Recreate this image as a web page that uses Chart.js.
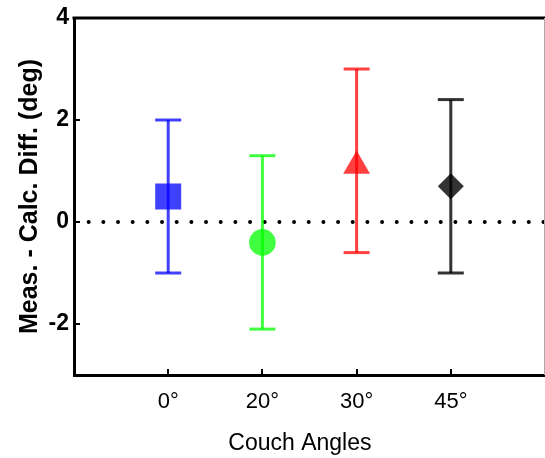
<!DOCTYPE html>
<html>
<head>
<meta charset="utf-8">
<script src="https://cdn.jsdelivr.net/npm/chart.js@4"></script>
<style>
  html, body { margin: 0; padding: 0; overflow: hidden; background: #fff; }
  canvas { display: block; }
</style>
</head>
<body>
<canvas id="diff-chart" width="545" height="458"></canvas>
<script>
// couch angle groups, plotted at x = 1..4
const angles = ['0°', '20°', '30°', '45°'];
const means = [0.5, -0.4, 1.1, 0.7];
const upper = [2.0, 1.3, 3.0, 2.4];
const lower = [-1.0, -2.1, -0.6, -1.0];
const yTicks = [-2, 0, 2, 4];

const colors = ['rgba(0,0,255,0.75)', 'rgba(0,255,0,0.75)', 'rgba(255,0,0,0.75)', 'rgba(0,0,0,0.8)'];
const markers = ['rect', 'circle', 'triangle', 'rectRot'];
const markerSize = [18.4, 13.3, 15.5, 13];

const FONT = "'Liberation Sans', Arial, Helvetica, sans-serif";

// frame on top/right plus small inward tick marks
const frameTicks = {
    id: 'frameTicks',
    afterDraw(chart) {
        const { ctx, chartArea: a, scales: { x, y } } = chart;
        ctx.save();
        ctx.strokeStyle = '#000';
        ctx.lineWidth = 3;
        ctx.beginPath();
        ctx.moveTo(a.left - 1.5, a.top);
        ctx.lineTo(a.right, a.top);
        ctx.stroke();

        // right edge of the frame is cut off, only a faint sliver shows
        ctx.strokeStyle = '#aaa';
        ctx.lineWidth = 1;
        ctx.beginPath();
        ctx.moveTo(a.right - 0.5, a.top);
        ctx.lineTo(a.right - 0.5, a.bottom);
        ctx.stroke();

        ctx.strokeStyle = '#000';
        ctx.lineWidth = 2;
        ctx.beginPath();
        x.ticks.forEach(t => {
            const px = Math.round(x.getPixelForValue(t.value));
            ctx.moveTo(px, a.bottom);
            ctx.lineTo(px, a.bottom - 6);
        });
        y.ticks.forEach(t => {
            const py = Math.round(y.getPixelForValue(t.value));
            ctx.moveTo(a.left, py);
            ctx.lineTo(a.left + 6, py);
        });
        ctx.stroke();
        ctx.restore();
    }
};

const markerSets = angles.map((a, i) => ({
    label: a,
    data: [{ x: i + 1, y: means[i] }],
    showLine: false,
    pointStyle: markers[i],
    pointRadius: markerSize[i],
    pointBackgroundColor: colors[i],
    pointBorderWidth: 0
}));

const errorSets = angles.map((a, i) => ({
    label: a + ' range',
    data: [{ x: i + 1, y: lower[i] }, { x: i + 1, y: upper[i] }],
    borderColor: colors[i],
    borderWidth: 3,
    pointStyle: 'line',
    pointRadius: 13,
    pointBorderColor: colors[i],
    pointBorderWidth: 3
}));

const zeroLine = {
    label: 'zero',
    data: [{ x: 0, y: 0 }, { x: 5, y: 0 }],
    borderColor: '#000',
    borderWidth: 4,
    borderDash: [0, 14.67],
    borderCapStyle: 'round',
    pointRadius: 0
};

new Chart(document.getElementById('diff-chart'), {
    type: 'line',
    data: { datasets: [...markerSets, ...errorSets, zeroLine] },
    options: {
        responsive: false,
        animation: false,
        events: [],
        layout: { autoPadding: false, padding: { top: 18, right: 0, bottom: 0, left: 0 } },
        plugins: {
            legend: { display: false },
            tooltip: { enabled: false }
        },
        scales: {
            x: {
                type: 'linear',
                min: 0,
                max: 5,
                afterBuildTicks: s => { s.ticks = angles.map((a, i) => ({ value: i + 1 })); },
                afterFit: s => { s.height = 83; s.paddingLeft = 0; s.paddingRight = 0; },
                grid: { display: false, drawTicks: false },
                border: { display: true, color: '#000', width: 3 },
                ticks: {
                    color: '#000',
                    padding: 14,
                    font: { family: FONT, size: 22 },
                    callback: v => angles[v - 1]
                },
                title: {
                    display: true,
                    // trailing nbsp nudges the centred title a little left, like the original
                    text: 'Couch Angles\u00a0\u00a0\u00a0',
                    color: '#000',
                    font: { family: FONT, size: 23 },
                    padding: { top: 0, bottom: 1 }
                }
            },
            y: {
                min: -3,
                max: 4,
                afterBuildTicks: s => { s.ticks = yTicks.map(v => ({ value: v })); },
                afterFit: s => { s.width = 74; s.paddingTop = 0; s.paddingBottom = 0; },
                grid: { display: false, drawTicks: false },
                border: { display: true, color: '#000', width: 3 },
                ticks: {
                    color: '#000',
                    padding: 5,
                    font: { family: FONT, size: 23, weight: 'bold' }
                },
                title: {
                    display: true,
                    text: 'Meas. - Calc. Diff. (deg)',
                    color: '#000',
                    font: { family: FONT, size: 25, weight: 'bold' },
                    padding: { top: 15, bottom: 0 }
                }
            }
        }
    },
    plugins: [frameTicks]
});
</script>
</body>
</html>
